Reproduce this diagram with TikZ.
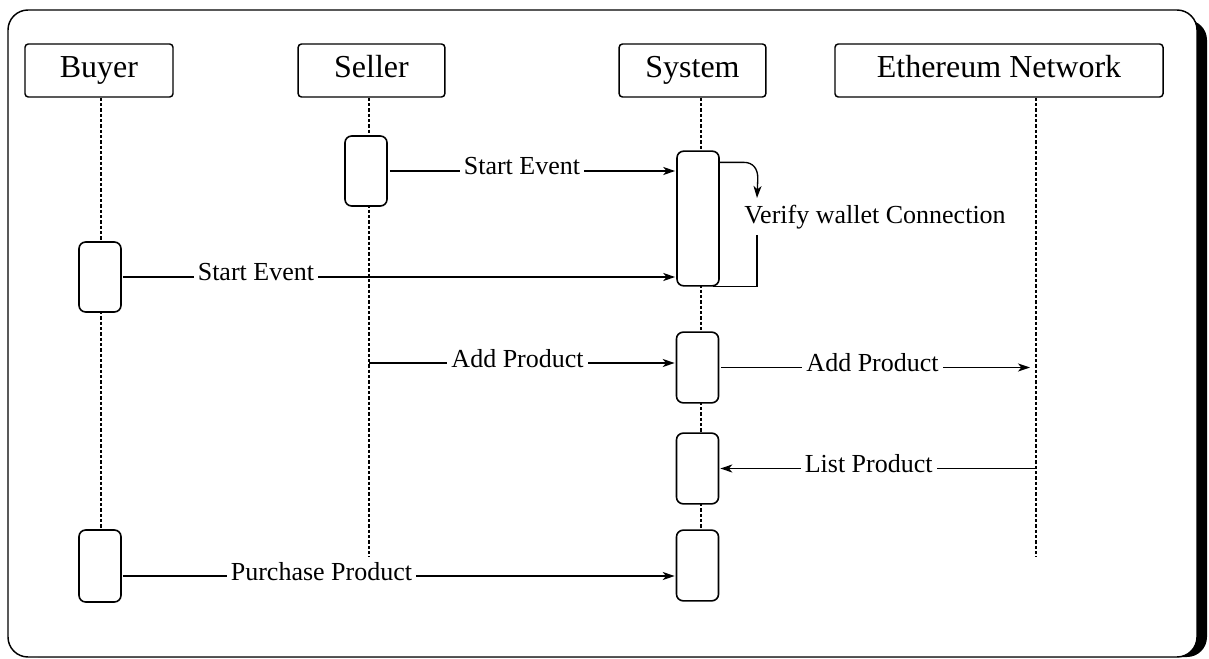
\documentclass[tikz,border=0pt]{standalone}
\usepackage{fontspec}
\setmainfont{Liberation Serif}
\usetikzlibrary{arrows.meta,calc}

\begin{document}
\begin{tikzpicture}[x=0.75pt,y=-0.75pt,
  header/.style={draw, line width=1.1pt, rounded corners=2.5pt, fill=white,
    minimum height=39.75pt, inner sep=0pt, text height=16pt, text depth=6.2pt,
    font=\fontsize{24}{28}\selectfont},
  actbox/.style={draw, line width=1.2pt, rounded corners=5pt, fill=white,
    minimum width=31.5pt, inner sep=0pt},
  lifeline/.style={line width=0.9pt, dash pattern=on 2.4pt off 1.6pt},
  msg/.style={line width=1pt, -{Stealth[length=9pt,width=6pt,inset=2.5pt]}},
  plain/.style={line width=1pt},
  lbl/.style={fill=white, inner xsep=3pt, inner ysep=0pt,
    text height=13pt, text depth=7pt, font=\fontsize{19.5}{23}\selectfont},
  note/.style={inner sep=0pt, font=\fontsize{19.5}{23}\selectfont}]

\useasboundingbox (0,0) rectangle (1209,659);

% frame with drop shadow
\fill[black, rounded corners=15pt] (18,20) rectangle (1207,657);
\draw[line width=1.1pt, fill=white, rounded corners=15pt] (8,10) rectangle (1197,657);

% participants
\node[header, minimum width=111pt] (buyer)  at (99,70.5)    {Buyer};
\node[header, minimum width=110pt] (seller) at (371.5,70.5) {Seller};
\node[header, minimum width=110pt] (system) at (692.5,70.5) {System};
\node[header, minimum width=246pt] (eth)    at (999,70.5)   {Ethereum Network};

% lifeline positions
\coordinate (xB) at (101,0);
\coordinate (xS) at (369,0);
\coordinate (xY) at (701,0);
\coordinate (xE) at (1036,0);
\coordinate (endB) at (101,530);
\coordinate (endS) at (369,557);
\coordinate (endY) at (701,530);
\coordinate (endE) at (1036,557);

\draw[lifeline] (buyer.south -| xB) -- (endB);
\draw[lifeline] (seller.south -| xS) -- (endS);
\draw[lifeline] (system.south -| xY) -- (endY);
\draw[lifeline] (eth.south -| xE) -- (endE);

% activation boxes
\node[actbox, minimum height=52.5pt] (sel1) at (366,171)     {};
\node[actbox, minimum height=101pt]  (sys1) at (698,218.5)   {};
\node[actbox, minimum height=52.5pt] (buy1) at (100,277)     {};
\node[actbox, minimum height=53pt]   (sys2) at (697.5,367.5) {};
\node[actbox, minimum height=53pt]   (sys3) at (697.5,468.5) {};
\node[actbox, minimum height=53pt]   (sys4) at (697.5,565.5) {};
\node[actbox, minimum height=54pt]   (buy2) at (100,566)     {};

% messages
\draw[msg] ($(sel1.east)+(2,0)$) -- ($(sel1.east -| sys1.west)+(-1,0)$)
  node[lbl, pos=0.463] {Start Event};
\draw[msg] ($(buy1.east)+(1,0)$) -- ($(buy1.east -| sys1.west)+(-1,0)$)
  node[lbl, pos=0.241] {Start Event};

% self call on the system
\coordinate (loopIn)  at (757,198);
\coordinate (loopOut) at (757,235);
\draw[msg] ($(sys1.north east)+(0,12)$) -- ++(24,0)
  .. controls +(9,0) and +(0,-10) .. ++(14,16) -- (loopIn);
\node[note] (verify) at (875,217) {Verify wallet Connection};
\draw[plain] (loopOut) |- ($(sys1.south east)+(-7,0)$);

\coordinate (selAdd) at (369,363);
\draw[msg] (selAdd) -- ($(selAdd -| sys2.west)+(-1,0)$)
  node[lbl, pos=0.486] {Add Product};

\draw[msg] ($(sys2.east)+(2,0)$) -- ($(sys2.east -| xE)+(-6,0)$)
  node[lbl, pos=0.490] {Add Product};

\draw[msg] (sys3.east -| xE) -- ($(sys3.east)+(1,0)$)
  node[lbl, pos=0.53] {List Product};

\coordinate (buyPur) at ($(buy2.east)+(1,10)$);
\draw[msg] (buyPur) -- ($(buyPur -| sys4.west)+(-1,0)$)
  node[lbl, pos=0.36] {Purchase Product};

\end{tikzpicture}
\end{document}
